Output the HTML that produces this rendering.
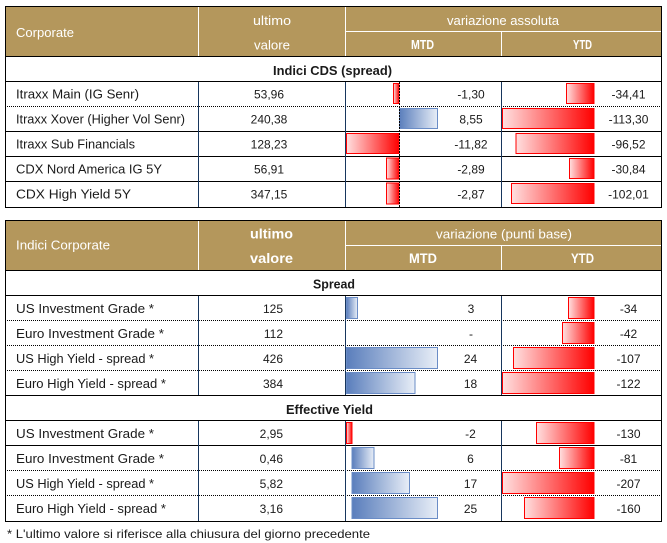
<!DOCTYPE html>
<html><head><meta charset="utf-8"><style>
html,body{margin:0;padding:0;background:#fff;}
svg{display:block;}
text{font-family:"Liberation Sans",sans-serif;}
</style></head><body>
<svg width="667" height="543" viewBox="0 0 667 543" xmlns="http://www.w3.org/2000/svg">
<defs>
<linearGradient id="rg" x1="0" y1="0" x2="1" y2="0"><stop offset="0" stop-color="#ffe0e0"/><stop offset="1" stop-color="#ff0000"/></linearGradient>
<linearGradient id="bg" x1="0" y1="0" x2="1" y2="0"><stop offset="0" stop-color="#5a7ebc"/><stop offset="1" stop-color="#e8eef7"/></linearGradient>
</defs>

<!-- ===== TABLE 1 ===== -->
<rect x="6" y="7" width="655" height="49" fill="#b4975c"/>
<g stroke="#fff" stroke-width="1">
<line x1="198.5" y1="7" x2="198.5" y2="56"/>
<line x1="345.5" y1="7" x2="345.5" y2="56"/>
<line x1="346" y1="31.5" x2="661" y2="31.5"/>
<line x1="501.5" y1="32" x2="501.5" y2="56"/>
</g>
<g stroke="#000" stroke-width="1">
<line x1="5" y1="56.5" x2="662" y2="56.5"/>
<line x1="5" y1="81.5" x2="662" y2="81.5"/>
<line x1="5" y1="131.5" x2="662" y2="131.5"/>
<line x1="5" y1="156.5" x2="662" y2="156.5"/>
<line x1="5" y1="181.5" x2="662" y2="181.5"/>
<line x1="5" y1="106.5" x2="662" y2="106.5" stroke-dasharray="1,1"/>
</g>
<g stroke="#17365d" stroke-width="1">
<line x1="198.5" y1="82" x2="198.5" y2="207"/>
<line x1="345.5" y1="82" x2="345.5" y2="207"/>
<line x1="501.5" y1="82" x2="501.5" y2="207"/>
</g>

<!-- bars table 1 MTD -->
<g stroke="#ff0000" stroke-width="1" fill="url(#rg)">
<rect x="393.5" y="83.5" width="5.5" height="20"/>
<rect x="346.5" y="133.5" width="52.5" height="20"/>
<rect x="386.5" y="158" width="12.5" height="21"/>
<rect x="386.5" y="183" width="12.5" height="21"/>
</g>
<rect x="399.5" y="108.5" width="38" height="20" fill="url(#bg)" stroke="#6a8cc6" stroke-width="1"/>
<line x1="399.5" y1="82" x2="399.5" y2="207" stroke="#000" stroke-width="1" stroke-dasharray="2,1"/>
<!-- bars table 1 YTD -->
<g stroke="#ff0000" stroke-width="1" fill="url(#rg)">
<rect x="566.5" y="83.5" width="27.5" height="20"/>
<rect x="502.5" y="108.5" width="91.5" height="20"/>
<rect x="516" y="133.5" width="78" height="20"/>
<rect x="569.5" y="158.5" width="24.5" height="20"/>
<rect x="511.5" y="183.5" width="82.5" height="20"/>
</g>

<rect x="5.5" y="6.5" width="656" height="201" fill="none" stroke="#000" stroke-width="1"/>

<!-- header text table 1 -->
<g fill="#fff" font-size="12.5">
<text x="16" y="37" textLength="58" lengthAdjust="spacingAndGlyphs">Corporate</text>
<text x="253" y="25" textLength="38" lengthAdjust="spacingAndGlyphs">ultimo</text>
<text x="254" y="49.5" textLength="36" lengthAdjust="spacingAndGlyphs">valore</text>
<text x="447" y="25" textLength="112" lengthAdjust="spacingAndGlyphs">variazione assoluta</text>
<text x="411" y="49" font-weight="bold" textLength="23" lengthAdjust="spacingAndGlyphs">MTD</text>
<text x="573" y="49" font-weight="bold" textLength="19" lengthAdjust="spacingAndGlyphs">YTD</text>
</g>
<text x="273" y="75" font-size="12.5" font-weight="bold" fill="#1a1a1a" textLength="119" lengthAdjust="spacingAndGlyphs">Indici CDS (spread)</text>

<g fill="#1a1a1a" font-size="12.5">
<text x="16" y="98.5" textLength="123" lengthAdjust="spacingAndGlyphs">Itraxx Main (IG Senr)</text>
<text x="16" y="123.5" textLength="169" lengthAdjust="spacingAndGlyphs">Itraxx Xover (Higher Vol Senr)</text>
<text x="16" y="148.5" textLength="119" lengthAdjust="spacingAndGlyphs">Itraxx Sub Financials</text>
<text x="16" y="173.5" textLength="146" lengthAdjust="spacingAndGlyphs">CDX Nord America IG 5Y</text>
<text x="16" y="198.5" textLength="115" lengthAdjust="spacingAndGlyphs">CDX High Yield 5Y</text>
</g>
<g fill="#1a1a1a" font-size="12" text-anchor="middle">
<text x="269" y="98.5">53,96</text>
<text x="269" y="123.5">240,38</text>
<text x="269" y="148.5">128,23</text>
<text x="269" y="173.5">56,91</text>
<text x="269" y="198.5">347,15</text>
<text x="471" y="98.5">-1,30</text>
<text x="471" y="123.5">8,55</text>
<text x="471" y="148.5">-11,82</text>
<text x="471" y="173.5">-2,89</text>
<text x="471" y="198.5">-2,87</text>
<text x="628.5" y="98.5">-34,41</text>
<text x="628.5" y="123.5">-113,30</text>
<text x="628.5" y="148.5">-96,52</text>
<text x="628.5" y="173.5">-30,84</text>
<text x="628.5" y="198.5">-102,01</text>
</g>

<!-- ===== TABLE 2 ===== -->
<rect x="6" y="221" width="655" height="49" fill="#b4975c"/>
<g stroke="#fff" stroke-width="1">
<line x1="198.5" y1="221" x2="198.5" y2="270"/>
<line x1="345.5" y1="221" x2="345.5" y2="270"/>
<line x1="346" y1="245.5" x2="661" y2="245.5"/>
<line x1="501.5" y1="246" x2="501.5" y2="270"/>
</g>
<g stroke="#000" stroke-width="1">
<line x1="5" y1="270.5" x2="662" y2="270.5"/>
<line x1="5" y1="295.5" x2="662" y2="295.5"/>
<line x1="5" y1="395.5" x2="662" y2="395.5"/>
<line x1="5" y1="420.5" x2="662" y2="420.5"/>
<line x1="5" y1="445.5" x2="662" y2="445.5"/>
<g stroke-dasharray="1,1">
<line x1="5" y1="320.5" x2="662" y2="320.5"/>
<line x1="5" y1="345.5" x2="662" y2="345.5"/>
<line x1="5" y1="370.5" x2="662" y2="370.5"/>
<line x1="5" y1="470.5" x2="662" y2="470.5"/>
<line x1="5" y1="495.5" x2="662" y2="495.5"/>
</g>
</g>
<g stroke="#17365d" stroke-width="1">
<line x1="198.5" y1="296" x2="198.5" y2="395"/>
<line x1="345.5" y1="296" x2="345.5" y2="395"/>
<line x1="501.5" y1="296" x2="501.5" y2="395"/>
<line x1="198.5" y1="421" x2="198.5" y2="521"/>
<line x1="345.5" y1="421" x2="345.5" y2="521"/>
<line x1="501.5" y1="421" x2="501.5" y2="521"/>
</g>

<!-- bars spread MTD -->
<g stroke="#6a8cc6" stroke-width="1" fill="url(#bg)">
<rect x="346.5" y="297.5" width="11" height="21"/>
<rect x="346.5" y="347.5" width="91" height="21"/>
<rect x="346.5" y="372.5" width="68.5" height="21"/>
</g>
<!-- bars spread YTD -->
<g stroke="#ff0000" stroke-width="1" fill="url(#rg)">
<rect x="568.5" y="297.5" width="25.5" height="21"/>
<rect x="562.5" y="322.5" width="31.5" height="21"/>
<rect x="513.5" y="347.5" width="80.5" height="21"/>
<rect x="502.5" y="372.5" width="91.5" height="21"/>
</g>
<!-- bars EY MTD -->
<rect x="346.5" y="422.5" width="5.5" height="21" fill="url(#rg)" stroke="#ff0000" stroke-width="1"/>
<g stroke="#6a8cc6" stroke-width="1" fill="url(#bg)">
<rect x="352" y="447.5" width="22" height="21"/>
<rect x="352" y="472.5" width="57.5" height="21"/>
<rect x="352" y="497.5" width="85.5" height="21"/>
</g>
<!-- bars EY YTD -->
<g stroke="#ff0000" stroke-width="1" fill="url(#rg)">
<rect x="536.5" y="422.5" width="57.5" height="21"/>
<rect x="559.5" y="447.5" width="34.5" height="21"/>
<rect x="502.5" y="472.5" width="91.5" height="21"/>
<rect x="524.5" y="497.5" width="69.5" height="21"/>
</g>

<rect x="5.5" y="220.5" width="656" height="301" fill="none" stroke="#000" stroke-width="1"/>

<!-- header text table 2 -->
<g fill="#fff" font-size="12.5">
<text x="16" y="249.5" textLength="94" lengthAdjust="spacingAndGlyphs">Indici Corporate</text>
<text x="250" y="238.5" font-size="13.5" font-weight="bold" textLength="43" lengthAdjust="spacingAndGlyphs">ultimo</text>
<text x="250" y="263" font-size="13.5" font-weight="bold" textLength="43" lengthAdjust="spacingAndGlyphs">valore</text>
<text x="436" y="238.5" textLength="136" lengthAdjust="spacingAndGlyphs">variazione (punti base)</text>
<text x="409" y="263" font-size="13.5" font-weight="bold" textLength="28" lengthAdjust="spacingAndGlyphs">MTD</text>
<text x="571" y="263" font-size="13.5" font-weight="bold" textLength="23" lengthAdjust="spacingAndGlyphs">YTD</text>
</g>
<g fill="#1a1a1a" font-size="12.5" font-weight="bold">
<text x="313" y="288.5" textLength="42" lengthAdjust="spacingAndGlyphs">Spread</text>
<text x="286" y="414" textLength="87" lengthAdjust="spacingAndGlyphs">Effective Yield</text>
</g>

<g fill="#1a1a1a" font-size="12.5">
<text x="16" y="313" textLength="138" lengthAdjust="spacingAndGlyphs">US Investment Grade *</text>
<text x="16" y="338" textLength="148" lengthAdjust="spacingAndGlyphs">Euro Investment Grade *</text>
<text x="16" y="363" textLength="138" lengthAdjust="spacingAndGlyphs">US High Yield  - spread *</text>
<text x="16" y="388" textLength="150" lengthAdjust="spacingAndGlyphs">Euro High Yield  - spread *</text>
<text x="16" y="438" textLength="138" lengthAdjust="spacingAndGlyphs">US Investment Grade *</text>
<text x="16" y="463" textLength="148" lengthAdjust="spacingAndGlyphs">Euro Investment Grade *</text>
<text x="16" y="488" textLength="138" lengthAdjust="spacingAndGlyphs">US High Yield  - spread *</text>
<text x="16" y="513" textLength="150" lengthAdjust="spacingAndGlyphs">Euro High Yield  - spread *</text>
</g>
<g fill="#1a1a1a" font-size="12" text-anchor="end">
<text x="283" y="313">125</text>
<text x="283" y="338">112</text>
<text x="283" y="363">426</text>
<text x="283" y="388">384</text>
<text x="283" y="438">2,95</text>
<text x="283" y="463">0,46</text>
<text x="283" y="488">5,82</text>
<text x="283" y="513">3,16</text>
</g>
<g fill="#1a1a1a" font-size="12" text-anchor="middle">
<text x="471" y="313">3</text>
<text x="471" y="338">-</text>
<text x="470.5" y="363">24</text>
<text x="470.5" y="388">18</text>
<text x="470.5" y="438">-2</text>
<text x="470.5" y="463">6</text>
<text x="470.5" y="488">17</text>
<text x="470.5" y="513">25</text>
<text x="628.5" y="313">-34</text>
<text x="628.5" y="338">-42</text>
<text x="628.5" y="363">-107</text>
<text x="628.5" y="388">-122</text>
<text x="628.5" y="438">-130</text>
<text x="628.5" y="463">-81</text>
<text x="628.5" y="488">-207</text>
<text x="628.5" y="513">-160</text>
</g>

<text x="7" y="538" font-size="12" fill="#1a1a1a" textLength="363" lengthAdjust="spacingAndGlyphs">* L'ultimo valore si riferisce alla chiusura del giorno precedente</text>
</svg>
</body></html>
